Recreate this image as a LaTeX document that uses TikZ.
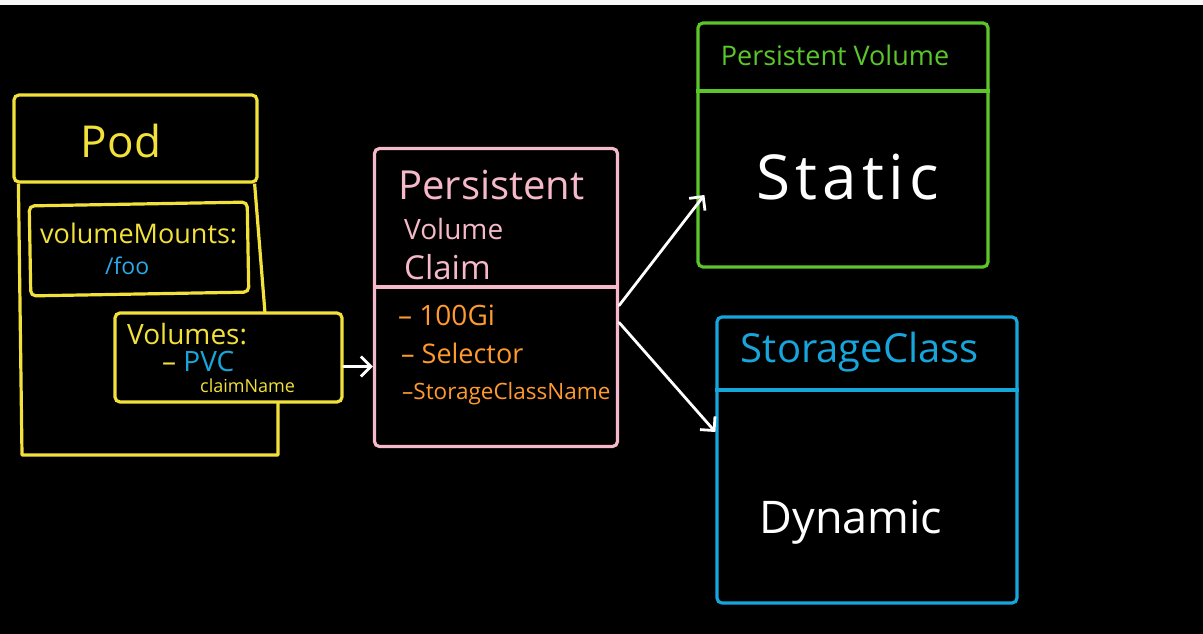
\documentclass[tikz,border=0pt]{standalone}
\usepackage{fontspec}
\setmainfont{Open Sans}
\usetikzlibrary{arrows.meta}
\definecolor{yel}{HTML}{F2E13A}
\definecolor{pinkc}{HTML}{F5B9C9}
\definecolor{oran}{HTML}{FF9A2E}
\definecolor{grn}{HTML}{5BC62A}
\definecolor{blu}{HTML}{17A6DB}
\definecolor{lblu}{HTML}{2AA9E6}
\definecolor{strip}{HTML}{F7F7F7}
\tikzset{
  box/.style={draw, line width=3.2pt, rounded corners=5pt, inner sep=0pt},
  txt/.style={inner sep=0pt, font=\fontsize{#1}{#1}\selectfont},
  arr/.style={draw=white, line width=2.8pt, line cap=round, -{Straight Barb[length=10pt,width=20pt,line width=2.8pt]}},
}
\begin{document}
\begin{tikzpicture}[x=1pt,y=-1pt]
\fill[black] (0,0) rectangle (1203,634);
\fill[strip] (0,0) rectangle (1203,5);
\useasboundingbox (0,0) rectangle (1203,634);

% Pod
\node[box, draw=yel, minimum width=243pt, minimum height=87pt] (podhead) at (135.5,138.5) {};
\node[txt=44, text=yel] (podt) at (121,141) {Pod};
\coordinate (podbl) at (22,455);
\coordinate (podbr) at (278,455);
\draw[yel, line width=3.2pt, line join=round] ([xshift=6pt]podhead.south west) -- (podbl) -- (podbr) -- (278,402);
\draw[yel, line width=3.2pt] ([xshift=-4pt]podhead.south east) -- (265,313);

\node[box, draw=yel, minimum width=218pt, minimum height=90pt, rotate=1] (mounts) at (139,249) {};
\node[txt=27, text=yel, anchor=west] (mountst) at (40,233) {volumeMounts:};
\node[txt=23, text=lblu, anchor=west] (foot) at (105,266) {/foo};

\node[box, draw=yel, fill=black, minimum width=227pt, minimum height=89pt] (vols) at (228.5,357.5) {};
\node[txt=28, text=yel, anchor=west] (volst) at (127,334) {Volumes:};
\node[txt=28, text=blu, anchor=west] (pvct) at (162,361) {{\color{yel}-- }PVC};
\node[txt=18, text=yel, anchor=west] (claimt) at (200,386) {claimName};

% PVC
\node[box, draw=pinkc, minimum width=243pt, minimum height=298pt] (pvc) at (496,297.5) {};
\draw[pinkc, line width=3.2pt] (pvc.west |- 0,287) -- (pvc.east |- 0,287);
\node[txt=40, text=pinkc, anchor=west] (pvct1) at (398,185) {Persistent};
\node[txt=28, text=pinkc, anchor=west] (pvct2) at (404,229) {Volume};
\node[txt=33, text=pinkc, anchor=west] (pvct3) at (404,267) {Claim};
\node[txt=28, text=oran, anchor=west] (o1) at (398,315) {-- 100Gi};
\node[txt=27, text=oran, anchor=west] (o2) at (401,353) {-- Selector};
\node[txt=22.5, text=oran, anchor=west] (o3) at (402,394) {--StorageClassName};

% PV
\node[box, draw=grn, minimum width=290pt, minimum height=244pt] (pv) at (843,145) {};
\draw[grn, line width=3.2pt] (pv.west |- 0,91) -- (pv.east |- 0,91);
\node[txt=27, text=grn] (pvt) at (835,55) {Persistent Volume};
\node[txt=62, text=white] (statt) at (848,177) {\addfontfeature{LetterSpace=8}Static};

% StorageClass
\node[box, draw=blu, minimum width=300pt, minimum height=286pt] (sc) at (867,460) {};
\draw[blu, line width=3.2pt] (sc.west |- 0,390) -- (sc.east |- 0,390);
\node[txt=40, text=blu] (sct) at (860,352) {StorageClass};
\node[txt=45, text=white] (dynt) at (851,522) {Dynamic};

% arrows
\draw[arr] ([yshift=-9pt]vols.east) -- ([yshift=-9pt]vols.east -| pvc.west);
\draw[arr] ([yshift=-8pt]pvc.east) -- ([xshift=8pt,yshift=-50pt]pv.west);
\draw[arr] ([yshift=-25pt]pvc.east) -- ([yshift=28pt]sc.west);
\end{tikzpicture}
\end{document}
